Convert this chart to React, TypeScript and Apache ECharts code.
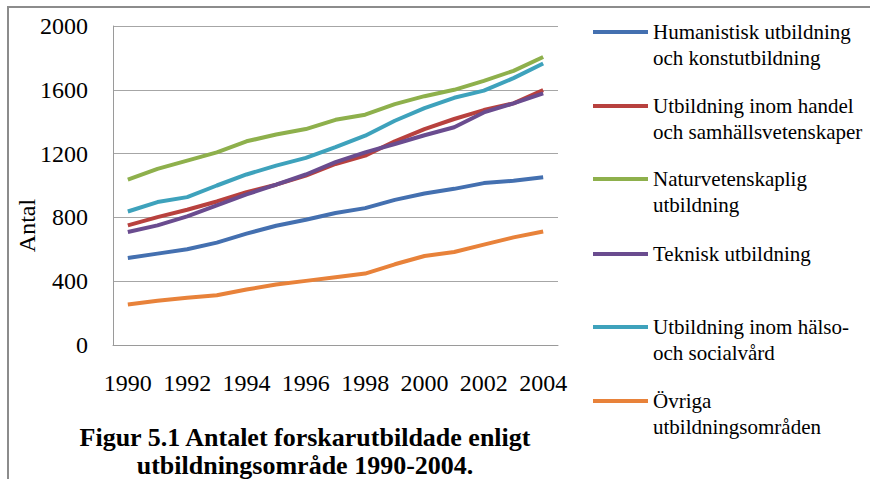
import React, { useEffect, useRef } from "react";
import * as echarts from "echarts";

const years = ["1990","1991","1992","1993","1994","1995","1996","1997","1998","1999","2000","2001","2002","2003","2004"];

const seriesNames = [
  "Humanistisk utbildning\noch konstutbildning",
  "Utbildning inom handel\noch samhällsvetenskaper",
  "Naturvetenskaplig\nutbildning",
  "Teknisk utbildning",
  "Utbildning inom hälso-\noch socialvård",
  "Övriga\nutbildningsområden",
];

const humanistisk = [546, 573, 600, 642, 698, 748, 785, 828, 858, 910, 950, 979, 1015, 1030, 1052];
const handel = [750, 802, 848, 900, 958, 1005, 1062, 1135, 1187, 1277, 1354, 1417, 1473, 1515, 1598];
const naturvetenskap = [1037, 1104, 1156, 1208, 1277, 1320, 1354, 1412, 1444, 1510, 1560, 1600, 1656, 1719, 1806];
const teknisk = [708, 750, 806, 875, 944, 1005, 1069, 1146, 1208, 1260, 1315, 1365, 1458, 1515, 1577];
const halso = [837, 896, 927, 1000, 1069, 1125, 1173, 1240, 1312, 1406, 1485, 1550, 1595, 1673, 1765];
const ovriga = [254, 277, 296, 312, 348, 379, 402, 425, 448, 506, 558, 583, 629, 675, 712];

const seriesData = [humanistisk, handel, naturvetenskap, teknisk, halso, ovriga];
const colors = ["#4470B0", "#B8413E", "#8EB04C", "#6A4C8F", "#3EA2BC", "#E8823A"];
const legendCenters = [32, 106, 179, 254, 327, 401];

const FONT = "'Liberation Serif', 'Times New Roman', serif";

export default function App() {
  const ref = useRef<HTMLDivElement>(null);
  useEffect(() => {
    if (!ref.current) return;
    const chart = echarts.init(ref.current, null, { renderer: "svg" });
    const legends = seriesNames.map((name, i) => {
      const twoLine = name.includes("\n");
      return {
        left: 593,
        top: legendCenters[i] - (twoLine ? 39 : 13),
        padding: 0,
        orient: "vertical",
        icon: "rect",
        itemWidth: 55,
        itemHeight: 4,
        itemGap: 0,
        selectedMode: false,
        data: [name],
        formatter: (n: string) => (n.includes("\n") ? "\n" + n : n),
        textStyle: {
          fontFamily: FONT,
          fontSize: 21,
          lineHeight: 26,
          color: "#000",
        },
      };
    });
    chart.setOption({
      animation: false,
      backgroundColor: "#fff",
      color: colors,
      title: {
        text: "Figur 5.1 Antalet forskarutbildade enligt\nutbildningsområde 1990-2004.",
        left: 305,
        top: 423,
        textAlign: "center",
        padding: 0,
        textStyle: {
          fontFamily: FONT,
          fontSize: 26,
          fontWeight: "bold",
          lineHeight: 28,
          color: "#000",
        },
      },
      legend: legends,
      grid: { left: 113, right: 312, top: 26, bottom: 134 },
      xAxis: {
        type: "category",
        data: years,
        boundaryGap: true,
        axisLine: { show: true, lineStyle: { color: "#9a9a9a", width: 1 } },
        axisTick: { show: false },
        axisLabel: {
          interval: 1,
          margin: 26,
          fontFamily: FONT,
          fontSize: 24,
          color: "#000",
        },
        splitLine: { show: false },
      },
      yAxis: {
        type: "value",
        min: 0,
        max: 2000,
        interval: 400,
        name: "Antal",
        nameLocation: "middle",
        nameRotate: 90,
        nameGap: 74,
        nameMoveOverlap: false,
        nameTextStyle: {
          fontFamily: FONT,
          fontSize: 24,
          color: "#000",
          padding: [0, 80, 0, 0],
        },
        axisLine: { show: true, lineStyle: { color: "#9a9a9a", width: 1 } },
        axisTick: { show: false },
        axisLabel: {
          margin: 25,
          fontFamily: FONT,
          fontSize: 24,
          color: "#000",
          formatter: (v: number) => String(v),
        },
        splitLine: { show: true, lineStyle: { color: "#a6a6a6", width: 1 } },
      },
      graphic: [
        {
          type: "polyline",
          shape: { points: [[8, 479], [8, 7], [870, 7]] },
          style: { stroke: "#8c8c8c", lineWidth: 2, fill: "none" },
          silent: true,
        },
      ],
      series: seriesNames.map((name, i) => ({
        name,
        type: "line",
        data: seriesData[i],
        symbol: "none",
        lineStyle: { width: 4, color: colors[i] },
        itemStyle: { color: colors[i] },
      })),
    });
    return () => chart.dispose();
  }, []);
  return <div ref={ref} style={{ position: "fixed", left: 0, top: 0, width: 870, height: 479 }} />;
}
